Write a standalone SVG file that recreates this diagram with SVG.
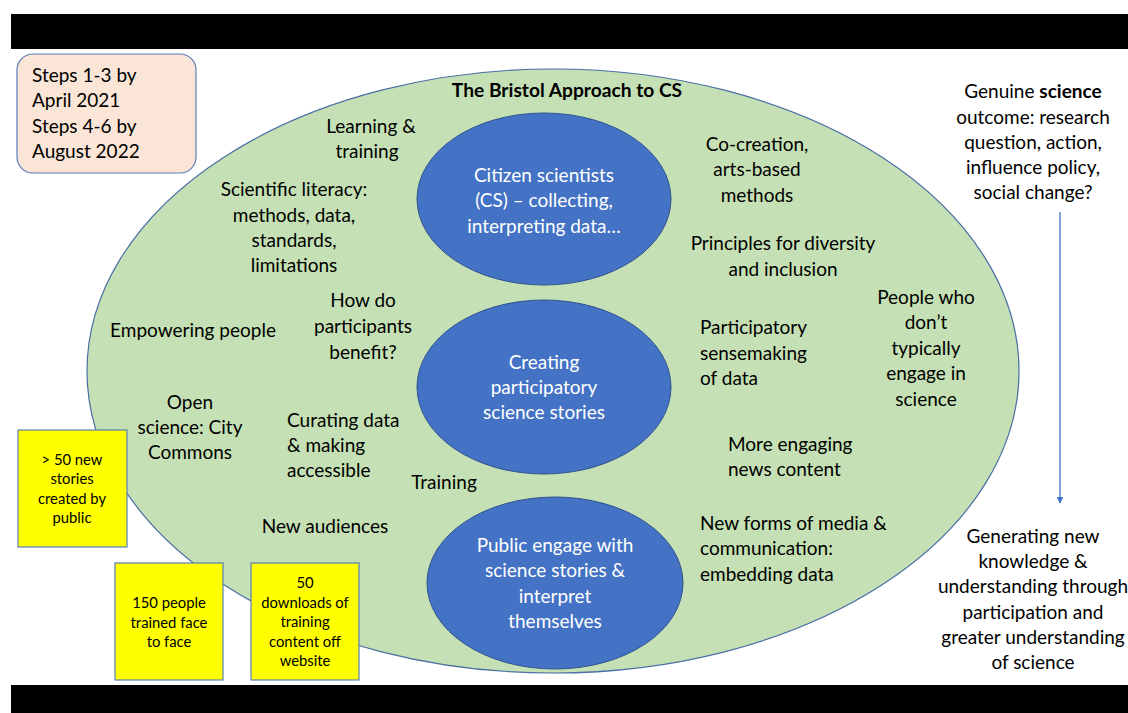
<svg xmlns="http://www.w3.org/2000/svg" width="1128" height="713" viewBox="0 0 1128 713">
<defs>
<style>
text{font-family:Lato,"Open Sans","Liberation Sans",sans-serif;fill:#000;}
.t{font-size:19px;text-anchor:middle;}
.l{font-size:19px;text-anchor:start;}
.w{font-size:19px;text-anchor:middle;fill:#fff;}
.y{font-size:14.8px;text-anchor:middle;}
.title{font-size:19.2px;font-weight:bold;text-anchor:middle;}
.box{fill:#FFFF00;stroke:#5B7DB8;stroke-width:1.2;}
.blue{fill:#4472C4;stroke:#2F528F;stroke-width:1;}
</style>
<marker id="ah" viewBox="0 0 10 10" refX="9" refY="5" markerWidth="7" markerHeight="7" orient="auto" markerUnits="userSpaceOnUse">
<path d="M0,0 L10,5 L0,10 z" fill="#4472C4"/>
</marker>
</defs>
<rect width="1128" height="713" fill="#fff"/>
<rect x="11" y="14" width="1117" height="35" fill="#000"/>
<rect x="11" y="685" width="1117" height="28" fill="#000"/>

<g id="steps">
<rect x="17" y="54" width="179" height="119" rx="16" fill="#FBE5D6" stroke="#5B7DB8" stroke-width="1.2"/>
<text class="l" x="32" y="82">Steps 1-3 by</text>
<text class="l" x="32" y="107">April 2021</text>
<text class="l" x="32" y="133">Steps 4-6 by</text>
<text class="l" x="32" y="158">August 2022</text>
</g>

<g id="approach">
<ellipse cx="553" cy="371" rx="466" ry="302" fill="#C5E0B4" stroke="#4A6FA5" stroke-width="1.2"/>
<text class="title" x="567" y="97">The Bristol Approach to CS</text>
<text class="t" x="371" y="133">Learning &amp;</text>
<text class="t" x="367" y="158">training</text>
<text class="t" x="294" y="196">Scientific literacy:</text>
<text class="t" x="294" y="222">methods, data,</text>
<text class="t" x="294" y="247">standards,</text>
<text class="t" x="294" y="272">limitations</text>
<text class="t" x="363" y="307">How do</text>
<text class="t" x="363" y="333">participants</text>
<text class="t" x="363" y="359">benefit?</text>
<text class="t" x="193" y="337">Empowering people</text>
<text class="t" x="190" y="409">Open</text>
<text class="t" x="190" y="434">science: City</text>
<text class="t" x="190" y="459">Commons</text>
<text class="l" x="287" y="427">Curating data</text>
<text class="l" x="287" y="452">&amp; making</text>
<text class="l" x="287" y="477">accessible</text>
<text class="t" x="444" y="489">Training</text>
<text class="t" x="325" y="533">New audiences</text>
<text class="t" x="757" y="151">Co-creation,</text>
<text class="t" x="757" y="176">arts-based</text>
<text class="t" x="757" y="202">methods</text>
<text class="t" x="783" y="250">Principles for diversity</text>
<text class="t" x="783" y="276">and inclusion</text>
<text class="t" x="926" y="304">People who</text>
<text class="t" x="926" y="329">don’t</text>
<text class="t" x="926" y="355">typically</text>
<text class="t" x="926" y="380">engage in</text>
<text class="t" x="926" y="406">science</text>
<text class="l" x="700" y="334">Participatory</text>
<text class="l" x="700" y="360">sensemaking</text>
<text class="l" x="700" y="385">of data</text>
<text class="l" x="728" y="451">More engaging</text>
<text class="l" x="728" y="476">news content</text>
<text class="l" x="700" y="530">New forms of media &amp;</text>
<text class="l" x="700" y="555">communication:</text>
<text class="l" x="700" y="581">embedding data</text>
</g>

<g id="citizen">
<ellipse class="blue" cx="544" cy="199" rx="127" ry="86"/>
<text class="w" x="544" y="182">Citizen scientists</text>
<text class="w" x="544" y="207">(CS) – collecting,</text>
<text class="w" x="544" y="233">interpreting data…</text>
</g>

<g id="creating">
<ellipse class="blue" cx="544" cy="387" rx="127" ry="87"/>
<text class="w" x="544" y="369">Creating</text>
<text class="w" x="544" y="394">participatory</text>
<text class="w" x="544" y="419">science stories</text>
</g>

<g id="public">
<ellipse class="blue" cx="555" cy="583" rx="128" ry="86"/>
<text class="w" x="555" y="552">Public engage with</text>
<text class="w" x="555" y="577">science stories &amp;</text>
<text class="w" x="555" y="603">interpret</text>
<text class="w" x="555" y="628">themselves</text>
</g>

<g id="outcome">
<text class="t" x="1033" y="98">Genuine <tspan font-weight="bold">science</tspan></text>
<text class="t" x="1033" y="124">outcome: research</text>
<text class="t" x="1033" y="149">question, action,</text>
<text class="t" x="1033" y="174">influence policy,</text>
<text class="t" x="1033" y="199">social change?</text>
</g>

<g id="knowledge">
<text class="t" x="1033" y="543">Generating new</text>
<text class="t" x="1033" y="568">knowledge &amp;</text>
<text class="t" x="1033" y="593">understanding through</text>
<text class="t" x="1033" y="619">participation and</text>
<text class="t" x="1033" y="644">greater understanding</text>
<text class="t" x="1033" y="669">of science</text>
</g>

<g id="stories-box">
<rect class="box" x="18" y="430" width="109" height="117"/>
<text class="y" x="72" y="465">&gt; 50 new</text>
<text class="y" x="72" y="484">stories</text>
<text class="y" x="72" y="504">created by</text>
<text class="y" x="72" y="523">public</text>
</g>

<g id="trained-box">
<rect class="box" x="115" y="563" width="108" height="117"/>
<text class="y" x="169" y="608">150 people</text>
<text class="y" x="169" y="628">trained face</text>
<text class="y" x="169" y="647">to face</text>
</g>

<g id="downloads-box">
<rect class="box" x="251" y="563" width="108" height="117"/>
<text class="y" x="305" y="588">50</text>
<text class="y" x="305" y="608">downloads of</text>
<text class="y" x="305" y="627">training</text>
<text class="y" x="305" y="647">content off</text>
<text class="y" x="305" y="666">website</text>
</g>

<g id="connectors">
<line x1="1060" y1="212" x2="1060" y2="503" stroke="#4472C4" stroke-width="1.3" marker-end="url(#ah)"/>
</g>
</svg>
